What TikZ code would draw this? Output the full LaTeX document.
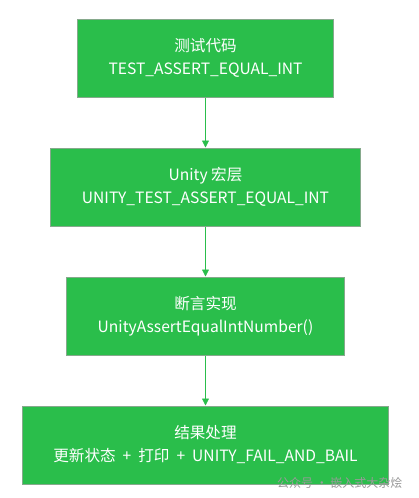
\documentclass[tikz,border=0pt]{standalone}
\usepackage{fontspec}
\setmainfont{Noto Sans CJK SC}
\usetikzlibrary{arrows.meta,positioning}
\definecolor{boxgreen}{HTML}{2ABE4B}
\definecolor{boxedge}{HTML}{86A98C}
\definecolor{markgray}{HTML}{9A9A9A}

\begin{document}
\begin{tikzpicture}[
  x=1pt, y=1pt,
  font=\fontsize{15.6}{23}\selectfont,
  node distance=50pt,
  stage/.style={rectangle, draw=boxedge, line width=1pt, fill=boxgreen, text=white,
                align=center, inner xsep=31pt, minimum height=78pt},
  arr/.style={-{Triangle[length=7pt,width=7pt]}, draw=boxgreen, line width=0.8pt},
  wmark/.style={text=markgray, font=\fontsize{12}{13}\selectfont, anchor=east},
]
\useasboundingbox (0,0) rectangle (418,-498);
% --- stages ---
\node[stage] (code) at (205.5,-58) {测试代码\\TEST\_ASSERT\_EQUAL\_INT};
\node[stage, below=of code] (macro) {Unity 宏层\\UNITY\_TEST\_ASSERT\_EQUAL\_INT};
\node[stage, below=of macro] (impl) {断言实现\\UnityAssertEqualIntNumber()};
\node[stage, below=of impl] (result)
  {结果处理\\更新状态\ \ +\ \ 打印\ \ +\ \ UNITY\_FAIL\_AND\_BAIL};
% --- watermark ---
\node[wmark] (wm) at (406,-483) {公众号 · 嵌入式大杂烩};
% --- flow ---
\draw[arr] (code) -- (macro);
\draw[arr] (macro) -- (impl);
\draw[arr] (impl) -- (result);
\end{tikzpicture}
\end{document}
